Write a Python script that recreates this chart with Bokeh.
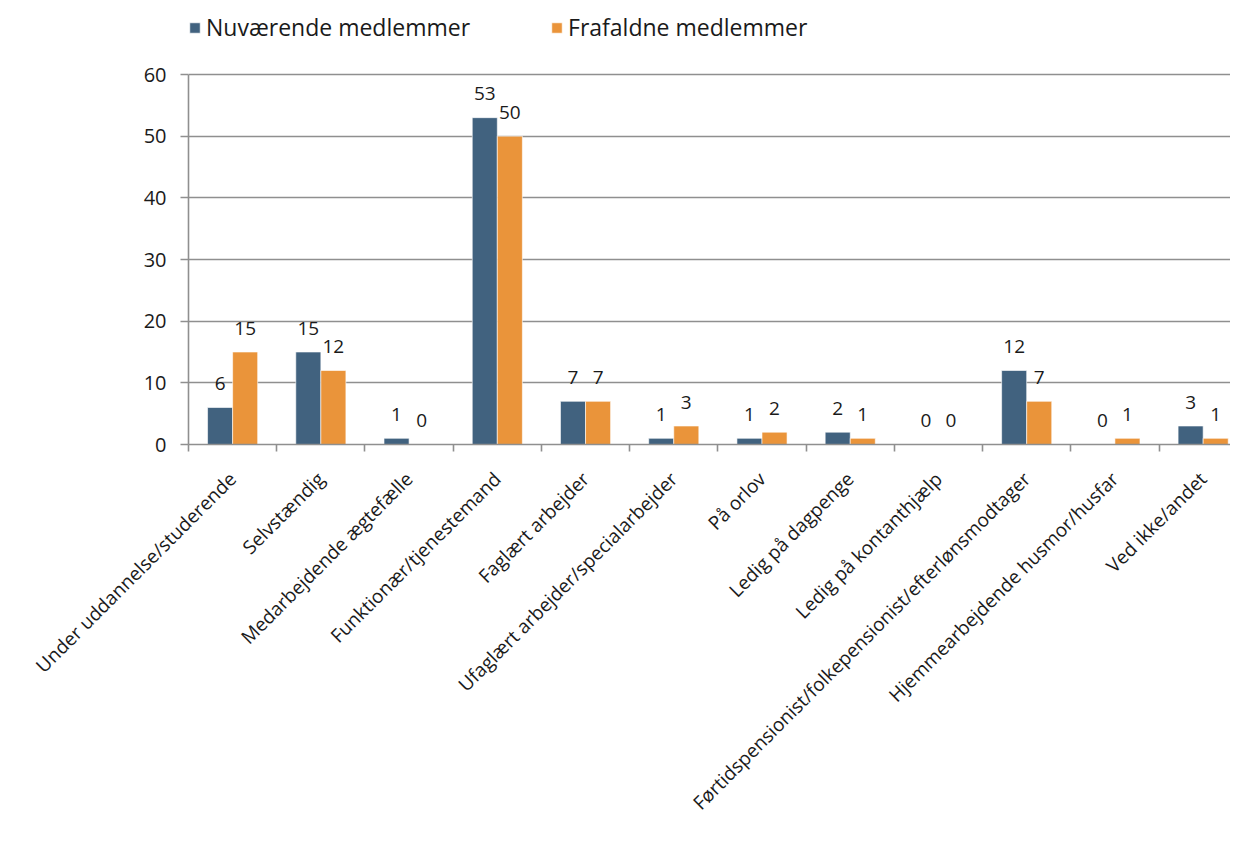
import math
from bokeh.plotting import figure
from bokeh.models import (ColumnDataSource, Range1d, FixedTicker, Legend, LegendItem)
from bokeh.core.properties import value
from bokeh.embed import file_html
from bokeh.resources import INLINE

categories = [
    "Under uddannelse/studerende",
    "Selvstændig",
    "Medarbejdende ægtefælle",
    "Funktionær/tjenestemand",
    "Faglært arbejder",
    "Ufaglært arbejder/specialarbejder",
    "På orlov",
    "Ledig på dagpenge",
    "Ledig på kontanthjælp",
    "Førtidspensionist/folkepensionist/efterlønsmodtager",
    "Hjemmearbejdende husmor/husfar",
    "Ved ikke/andet",
]
nuvaerende = [6, 15, 1, 53, 7, 1, 1, 2, 0, 12, 0, 3]
frafaldne = [15, 12, 0, 50, 7, 3, 2, 1, 0, 7, 1, 1]
series_names = ["Nuværende medlemmer", "Frafaldne medlemmer"]
y_ticks = [0, 10, 20, 30, 40, 50, 60]

BLUE = "#41627f"
ORANGE = "#ea943a"
GRID = "#8f8f8f"
TXT = "#1a1a1a"
FONT = "Open Sans"

centers = [i + 0.5 for i in range(len(categories))]
bw = 0.284
src = ColumnDataSource(dict(
    xb=[c - bw / 2 for c in centers],
    xo=[c + bw / 2 for c in centers],
    nuv=nuvaerende,
    fra=frafaldne,
    nuv_l=[str(v) for v in nuvaerende],
    fra_l=[str(v) for v in frafaldne],
))

# frame: x 188..1230 px, y 0..444 px (60 -> 74 px from top)
p = figure(width=1230, height=845, output_backend="svg", toolbar_location=None,
           x_range=Range1d(0, 11.81), y_range=Range1d(0, 72),
           min_border_left=188, min_border_right=0, min_border_top=0,
           min_border_bottom=401)
p.outline_line_color = None
p.background_fill_color = "white"

rb = p.vbar(x="xb", top="nuv", width=bw, bottom=0, source=src,
            fill_color=BLUE, line_color="white", line_width=0.6)
ro = p.vbar(x="xo", top="fra", width=bw, bottom=0, source=src,
            fill_color=ORANGE, line_color="white", line_width=0.6)

for xcol, ycol, lcol in (("xb", "nuv", "nuv_l"), ("xo", "fra", "fra_l")):
    p.text(x=xcol, y=ycol, text=lcol, source=src, text_align="center",
           text_baseline="alphabetic", y_offset=-24,
           text_font=value(FONT), text_font_size="19px", text_color=TXT)

p.xgrid.visible = False
p.ygrid.ticker = FixedTicker(ticks=y_ticks)
p.ygrid.grid_line_color = GRID
p.ygrid.grid_line_width = 1.6

p.yaxis.ticker = FixedTicker(ticks=y_ticks)
p.yaxis.bounds = (0, 60)
p.yaxis.axis_line_color = GRID
p.yaxis.axis_line_width = 1.6
p.yaxis.major_tick_line_color = GRID
p.yaxis.major_tick_line_width = 1.6
p.yaxis.major_tick_out = 8
p.yaxis.major_tick_in = 0
p.yaxis.minor_tick_line_color = None
p.yaxis.major_label_text_font = FONT
p.yaxis.major_label_text_font_size = "20px"
p.yaxis.major_label_text_color = TXT
p.yaxis.major_label_standoff = 14

p.xaxis.ticker = FixedTicker(ticks=centers, minor_ticks=list(range(len(categories) + 1)))
p.xaxis.major_label_overrides = {c: name for c, name in zip(centers, categories)}
p.xaxis.major_label_orientation = math.radians(45)
p.xaxis.major_tick_out = 0
p.xaxis.major_tick_in = 0
p.xaxis.minor_tick_out = 7
p.xaxis.minor_tick_in = 0
p.xaxis.minor_tick_line_color = GRID
p.xaxis.minor_tick_line_width = 1.6
p.xaxis.axis_line_color = GRID
p.xaxis.axis_line_width = 1.6
p.xaxis.major_label_text_font = FONT
p.xaxis.major_label_text_font_size = "19px"
p.xaxis.major_label_text_color = TXT
p.xaxis.major_label_standoff = 24

legend = Legend(items=[LegendItem(label=series_names[0], renderers=[rb]),
                       LegendItem(label=series_names[1], renderers=[ro])],
                orientation="horizontal", location=(0, 401),
                padding=0, margin=0, spacing=80, border_line_color=None,
                background_fill_alpha=0, glyph_width=13, glyph_height=13,
                label_standoff=5, label_text_font=FONT,
                label_text_font_size="23px", label_text_color=TXT)
p.add_layout(legend, "center")

open("out.html", "w").write(file_html(p, INLINE))
